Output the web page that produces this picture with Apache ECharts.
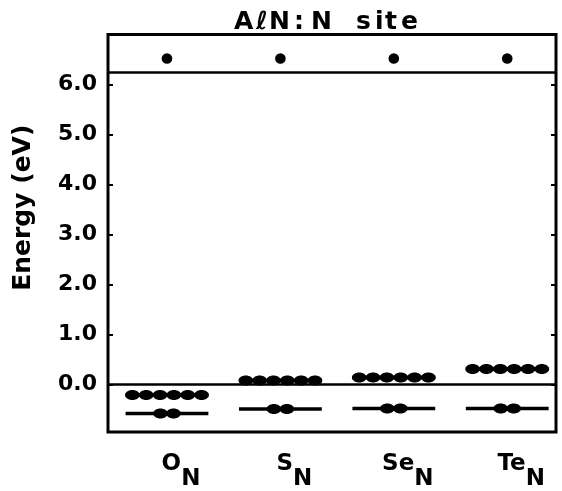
<!DOCTYPE html>
<html><head><meta charset="utf-8">
<script src="https://cdn.jsdelivr.net/npm/echarts@6/dist/echarts.min.js"></script>
<style>html,body{margin:0;padding:0;background:#fff}#c{width:562px;height:491px}</style>
</head><body><div id="c"></div>
<script>
// ---- data ----
const categories = ['O', 'S', 'Se', 'Te'];
const siteSub = 'N';
const deepLevel = [-0.58, -0.49, -0.48, -0.48];   // lower level (eV)
const deepOcc = [2, 2, 2, 2];
const shallowLevel = [-0.21, 0.08, 0.14, 0.31];   // upper gap level (eV)
const shallowOcc = [6, 6, 6, 6];
const upperLevel = [6.52, 6.52, 6.52, 6.52];      // level above CBM (eV)
const upperOcc = [1, 1, 1, 1];
const bandEdges = [0, 6.24];                      // VBM, CBM
const yTickValues = [0, 1, 2, 3, 4, 5, 6];
const titleChars = ['A', '\u2113', 'N', ':', 'N', 's', 'i', 't', 'e'];

const FONT = 'DejaVu Sans';
const titleCharWidths = [22, 13, 25, 17, 45, 19, 10, 16, 20];
const titleRich = {};
titleChars.forEach((ch, k) => {
  titleRich['c' + k] = {fontFamily: FONT, fontWeight: 'bold', fontSize: 25, color: '#000', width: titleCharWidths[k], align: 'left'};
});
const titleText = titleChars.map((ch, k) => '{c' + k + '|' + ch + '}').join('');

const levelData = [];
categories.forEach((c, i) => {
  levelData.push([i, deepLevel[i], deepOcc[i], 1, 0]);
  levelData.push([i, shallowLevel[i], shallowOcc[i], 1, 0]);
  levelData.push([i, upperLevel[i], upperOcc[i], 0, 1]);
});

function renderItem(params, api) {
  const i = api.value(0), e = api.value(1), n = api.value(2), hasLine = api.value(3), round = api.value(4);
  const band = api.size([1, 0])[0];
  const c = api.coord([i, e]);
  const children = [];
  if (hasLine) {
    const half = band * 0.365;
    children.push({type: 'line', shape: {x1: c[0] - half, y1: c[1], x2: c[0] + half, y2: c[1]},
      style: {stroke: '#000', lineWidth: 3.5}});
  }
  const step = n === 2 ? band * 0.115 : band * 0.122;
  for (let k = 0; k < n; k++) {
    const x = c[0] + (k - (n - 1) / 2) * step;
    if (round) {
      children.push({type: 'circle', shape: {cx: x, cy: c[1], r: 5.3}, style: {fill: '#000'}});
    } else {
      children.push({type: 'ellipse', shape: {cx: x, cy: c[1], rx: 7.3, ry: 5}, style: {fill: '#000'}});
    }
  }
  return {type: 'group', children};
}

const chart = echarts.init(document.getElementById('c'), null, {renderer: 'canvas'});
chart.setOption({
  animation: false,
  backgroundColor: '#fff',
  title: {
    text: titleText, left: 234, top: 10, padding: 0,
    textStyle: {fontFamily: FONT, fontWeight: 'bold', fontSize: 25, color: '#000', rich: titleRich}
  },
  grid: {left: 108, right: 6, top: 34.5, bottom: 59, show: true, borderColor: '#000', borderWidth: 3, backgroundColor: 'transparent'},
  xAxis: {
    type: 'value', min: -0.52, max: 3.43,
    axisLine: {show: false, onZero: false}, axisTick: {show: false}, splitLine: {show: false},
    axisLabel: {
      customValues: [0, 1, 2, 3], margin: 21, padding: [0, 0, 0, 28],
      formatter: v => '{m|' + categories[Math.round(v)] + '}{s|' + siteSub + '}',
      rich: {
        m: {fontFamily: FONT, fontWeight: 'bold', fontSize: 23, color: '#000', lineHeight: 23, verticalAlign: 'top'},
        s: {fontFamily: FONT, fontWeight: 'bold', fontSize: 23, color: '#000', lineHeight: 38, verticalAlign: 'bottom'}
      }
    }
  },
  yAxis: [{
    type: 'value', min: -0.95, max: 7,
    name: 'Energy (eV)', nameLocation: 'middle', nameGap: 72, nameRotate: 90,
    nameTextStyle: {fontFamily: FONT, fontWeight: 'bold', fontSize: 25, color: '#000', padding: [0, 0, 0, 51]},
    axisLine: {show: false, onZero: false}, splitLine: {show: false},
    axisTick: {show: true, inside: true, length: 5, customValues: yTickValues, lineStyle: {color: '#000', width: 2}},
    axisLabel: {customValues: yTickValues, margin: 11,
      fontFamily: FONT, fontWeight: 'bold', fontSize: 22, color: '#000',
      formatter: v => v.toFixed(1)}
  }, {
    type: 'value', min: -0.95, max: 7, position: 'right',
    axisLine: {show: false, onZero: false}, splitLine: {show: false}, axisLabel: {show: false},
    axisTick: {show: true, inside: true, length: 5, customValues: yTickValues, lineStyle: {color: '#000', width: 2}}
  }],
  series: [{
    type: 'custom', renderItem, data: levelData, clip: false,
    markLine: {
      silent: true, symbol: 'none', label: {show: false},
      lineStyle: {color: '#000', width: 2.5, type: 'solid'},
      data: bandEdges.map(v => ({yAxis: v}))
    }
  }]
});
</script></body></html>
